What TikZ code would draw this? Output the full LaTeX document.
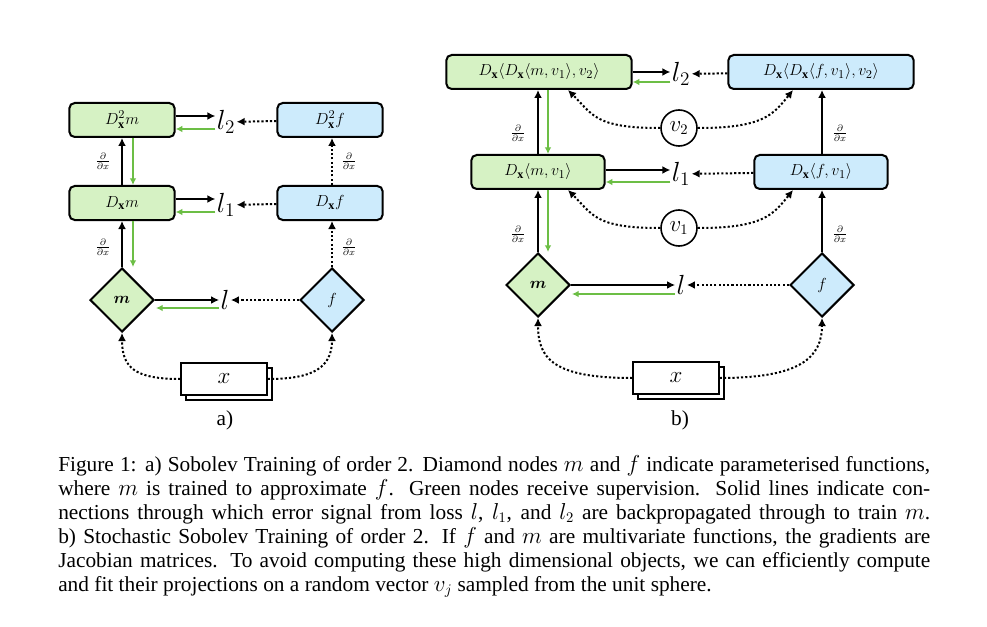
\documentclass[tikz,border=0pt]{standalone}
\usepackage{fontspec}
\setmainfont{Liberation Serif}
\usepackage{amsmath}
\usetikzlibrary{shapes.geometric,arrows.meta,calc}
\definecolor{gfill}{HTML}{D6F2C4}
\definecolor{bfill}{HTML}{CDEBFC}
\definecolor{garrow}{HTML}{6CBE45}
\tikzset{
  box/.style={draw,line width=1.5pt,rounded corners=4pt,minimum height=25.5pt,inner sep=1pt,font=\fontsize{13}{15}\selectfont},
  gbox/.style={box,fill=gfill},
  bbox/.style={box,fill=bfill},
  dia/.style={draw,line width=1.5pt,diamond,aspect=1,minimum width=48pt,minimum height=48pt,inner sep=0pt,font=\fontsize{13}{15}\selectfont},
  loss/.style={inner sep=1pt,font=\fontsize{20}{24}\selectfont},
  sol/.style={line width=1.5pt,-{Latex[length=6pt,width=6pt]}},
  dot/.style={line width=1.5pt,dash pattern=on 1.6pt off 1.6pt,-{Latex[length=6pt,width=6pt]}},
  grn/.style={line width=1.2pt,garrow,-{Latex[length=5pt,width=5pt]}},
  lbl/.style={inner sep=0pt,font=\fontsize{10}{12}\selectfont},
  xbox/.style={draw,line width=1.5pt,fill=white,minimum width=64pt,minimum height=24pt,font=\fontsize{18}{20}\selectfont},
  circ/.style={draw,line width=1.2pt,circle,minimum size=27pt,inner sep=0pt,font=\fontsize{16}{18}\selectfont},
  captxt/.style={anchor=base west,inner sep=0pt,font=\fontsize{16}{18}\selectfont},
}
\newcommand{\dd}{$\frac{\partial}{\partial x}$}
\begin{document}
\begin{tikzpicture}[x=0.75pt,y=-0.75pt]
\useasboundingbox (0,0) rectangle (987,627);
% ---------- panel a
\node[gbox,minimum width=79pt] (a2m) at (122,120) {$D^2_{\mathbf{x}}m$};
\node[gbox,minimum width=79pt] (a1m) at (122,203) {$D_{\mathbf{x}}m$};
\node[bbox,minimum width=79pt] (a2f) at (330,120) {$D^2_{\mathbf{x}}f$};
\node[bbox,minimum width=79pt] (a1f) at (330,203) {$D_{\mathbf{x}}f$};
\node[dia,fill=gfill] (am) at (122,300) {$\boldsymbol{m}$};
\node[dia,fill=bfill] (af) at (332,300) {$f$};
\node[loss] (al2) at (226,122) {$l_2$};
\node[loss] (al1) at (226,205) {$l_1$};
\node[loss] (al) at (225,300) {$l$};
\node[xbox] (axs) at (229,384) {};
\node[xbox] (ax) at (224,379) {$x$};
\node[captxt,anchor=center] (alab) at (225,420) {a)};
\draw[sol] (a2m.east |- 0,116) -- (al2.west |- 0,116);
\draw[grn] (al2.west |- 0,129) -- (a2m.east |- 0,129);
\draw[sol] (a1m.east |- 0,199) -- (al1.west |- 0,199);
\draw[grn] (al1.west |- 0,212) -- (a1m.east |- 0,212);
\draw[sol] (am.east) -- (al.west |- am.east);
\draw[grn] (al.west |- 0,308) -- (156,308);
\draw[dot] (a2f) -- (al2);
\draw[dot] (a1f) -- (al1);
\draw[dot] (af) -- (al);
\draw[sol] (am.north) -- (a1m.south);
\draw[sol] (a1m.north) -- (a2m.south);
\draw[grn] ($(a2m.south)+(11,0)$) -- ($(a1m.north)+(11,0)$);
\draw[grn] ($(a1m.south)+(11,0)$) -- ($(am.north)+(11,0)$);
\draw[dot] (af.north) -- (a1f.south -| af.north);
\draw[dot] (a1f.north -| af.north) -- (a2f.south -| af.north);
\node[lbl] (ad1) at (103,247) {\dd};
\node[lbl] (ad2) at (103,161) {\dd};
\node[lbl] (ad3) at (349,247) {\dd};
\node[lbl] (ad4) at (349,161) {\dd};
\draw[dot] (ax.west) .. controls +(-45,0) and +(0,35) .. (am.south);
\draw[dot] (ax.east) .. controls +(45,0) and +(0,35) .. (af.south);
% ---------- panel b
\node[gbox,minimum width=139pt] (b2m) at (539,72) {$D_{\mathbf{x}}\langle D_{\mathbf{x}}\langle m,v_1\rangle,v_2\rangle$};
\node[gbox,minimum width=100pt] (b1m) at (538,172) {$D_{\mathbf{x}}\langle m,v_1\rangle$};
\node[bbox,minimum width=139pt] (b2f) at (821,72) {$D_{\mathbf{x}}\langle D_{\mathbf{x}}\langle f,v_1\rangle,v_2\rangle$};
\node[bbox,minimum width=100pt] (b1f) at (821,172) {$D_{\mathbf{x}}\langle f,v_1\rangle$};
\node[dia,fill=gfill] (bm) at (538,285) {$\boldsymbol{m}$};
\node[dia,fill=bfill] (bf) at (822,285) {$f$};
\node[loss] (bl2) at (681,74) {$l_2$};
\node[loss] (bl1) at (681,174) {$l_1$};
\node[loss] (bl) at (681,285) {$l$};
\node[circ] (v2) at (679,128) {$v_2$};
\node[circ] (v1) at (679,228) {$v_1$};
\node[xbox] (bxs) at (681,383) {};
\node[xbox] (bx) at (676,378) {$x$};
\node[captxt,anchor=center] (blab) at (680,420) {b)};
\draw[sol] (b2m.east |- 0,72) -- (bl2.west |- 0,72);
\draw[grn] (bl2.west |- 0,82) -- (b2m.east |- 0,82);
\draw[sol] (b1m.east |- 0,170) -- (bl1.west |- 0,170);
\draw[grn] (bl1.west |- 0,182) -- (b1m.east |- 0,182);
\draw[sol] (bm.east) -- (bl.west |- bm.east);
\draw[grn] (bl.west |- 0,294) -- (572,294);
\draw[dot] (b2f) -- (bl2);
\draw[dot] (b1f) -- (bl1);
\draw[dot] (bf) -- (bl);
\draw[sol] (bm.north) -- (b1m.south);
\draw[sol] (b1m.north) -- (b1m.north |- b2m.south);
\draw[grn] ($(b1m.north |- b2m.south)+(10,0)$) -- ($(b1m.north)+(10,0)$);
\draw[grn] ($(b1m.south)+(10,0)$) -- ($(bm.north)+(10,0)$);
\draw[sol] (bf.north) -- (b1f.south -| bf.north);
\draw[sol] (b1f.north -| bf.north) -- (b2f.south -| bf.north);
\node[lbl] (bd1) at (518,234) {\dd};
\node[lbl] (bd2) at (518,133) {\dd};
\node[lbl] (bd3) at (840,234) {\dd};
\node[lbl] (bd4) at (840,133) {\dd};
\coordinate (t2l) at ($(b2m.south)+(29,0)$);
\coordinate (t2r) at ($(b2f.south)+(-28,0)$);
\coordinate (t1l) at ($(b1m.south)+(30,0)$);
\coordinate (t1r) at ($(b1f.south)+(-28,0)$);
\draw[dot] (v2.west) .. controls +(-65,0) and +(25,25) .. (t2l);
\draw[dot] (v2.east) .. controls +(65,0) and +(-20,25) .. (t2r);
\draw[dot] (v1.west) .. controls +(-65,0) and +(25,25) .. (t1l);
\draw[dot] (v1.east) .. controls +(65,0) and +(-20,25) .. (t1r);
\draw[dot] (bx.west) .. controls +(-80,0) and +(0,40) .. (bm.south);
\draw[dot] (bx.east) .. controls +(80,0) and +(0,40) .. (bf.south);
% ---------- caption
\node[captxt] (c1) at (58,471) {\makebox[654pt][s]{Figure 1: a) Sobolev Training of order 2. Diamond nodes $m$ and $f$ indicate parameterised functions,}};
\node[captxt] (c2) at (58,495) {\makebox[654pt][s]{where $m$ is trained to approximate $f$. Green nodes receive supervision. Solid lines indicate con-}};
\node[captxt] (c3) at (58,519) {\makebox[654pt][s]{nections through which error signal from loss $l$, $l_1$, and $l_2$ are backpropagated through to train $m$.}};
\node[captxt] (c4) at (58,543) {\makebox[654pt][s]{b) Stochastic Sobolev Training of order 2. If $f$ and $m$ are multivariate functions, the gradients are}};
\node[captxt] (c5) at (58,567) {\makebox[654pt][s]{Jacobian matrices. To avoid computing these high dimensional objects, we can efficiently compute}};
\node[captxt] (c6) at (58,591) {and fit their projections on a random vector $v_j$ sampled from the unit sphere.};
\end{tikzpicture}
\end{document}
